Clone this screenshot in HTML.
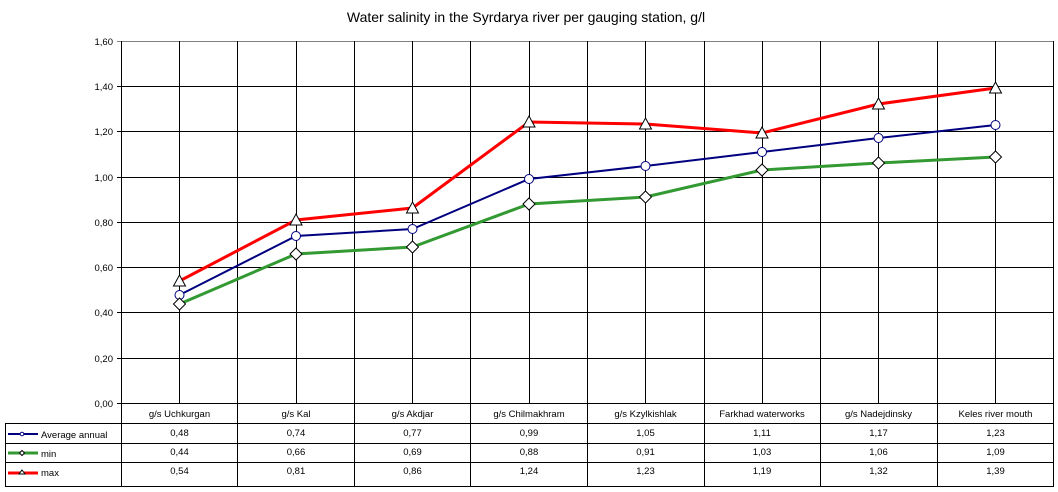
<!DOCTYPE html>
<html><head><meta charset="utf-8"><style>
html,body{margin:0;padding:0;background:#fff}
svg{display:block;font-family:"Liberation Sans",Arial,sans-serif}
</style></head><body>
<svg width="1058" height="492" viewBox="0 0 1058 492" xmlns="http://www.w3.org/2000/svg">
<rect width="1058" height="492" fill="#fff"/>
<text x="526" y="22" font-size="14" text-anchor="middle">Water salinity in the Syrdarya river per gauging station, g/l</text>
<g stroke="#000" stroke-width="1" shape-rendering="crispEdges">
<line x1="117" y1="41.5" x2="1054" y2="41.5" stroke="#808080"/>
<line x1="117" y1="86.5" x2="1054" y2="86.5"/>
<line x1="117" y1="131.5" x2="1054" y2="131.5"/>
<line x1="117" y1="177.5" x2="1054" y2="177.5"/>
<line x1="117" y1="222.5" x2="1054" y2="222.5"/>
<line x1="117" y1="267.5" x2="1054" y2="267.5"/>
<line x1="117" y1="312.5" x2="1054" y2="312.5"/>
<line x1="117" y1="358.5" x2="1054" y2="358.5"/>
<line x1="117" y1="403.5" x2="1054" y2="403.5"/>
<line x1="121.5" y1="41" x2="121.5" y2="486"/>
<line x1="179.5" y1="41" x2="179.5" y2="403"/>
<line x1="237.5" y1="41" x2="237.5" y2="486"/>
<line x1="296.5" y1="41" x2="296.5" y2="403"/>
<line x1="354.5" y1="41" x2="354.5" y2="486"/>
<line x1="412.5" y1="41" x2="412.5" y2="403"/>
<line x1="470.5" y1="41" x2="470.5" y2="486"/>
<line x1="529.5" y1="41" x2="529.5" y2="403"/>
<line x1="587.5" y1="41" x2="587.5" y2="486"/>
<line x1="645.5" y1="41" x2="645.5" y2="403"/>
<line x1="704.5" y1="41" x2="704.5" y2="486"/>
<line x1="762.5" y1="41" x2="762.5" y2="403"/>
<line x1="820.5" y1="41" x2="820.5" y2="486"/>
<line x1="878.5" y1="41" x2="878.5" y2="403"/>
<line x1="937.5" y1="41" x2="937.5" y2="486"/>
<line x1="995.5" y1="41" x2="995.5" y2="403"/>
<line x1="1053.5" y1="41" x2="1053.5" y2="486"/>
<line x1="5.5" y1="423.5" x2="1054" y2="423.5"/>
<line x1="5.5" y1="443.5" x2="1054" y2="443.5"/>
<line x1="5.5" y1="462.5" x2="1054" y2="462.5"/>
<line x1="5.5" y1="486.5" x2="1054" y2="486.5"/>
<line x1="5.5" y1="423" x2="5.5" y2="487"/>
</g>
<g font-size="9.5" text-anchor="end">
<text x="113" y="45">1,60</text><text x="113" y="90">1,40</text><text x="113" y="135">1,20</text>
<text x="113" y="181">1,00</text><text x="113" y="226">0,80</text><text x="113" y="271">0,60</text>
<text x="113" y="316">0,40</text><text x="113" y="362">0,20</text><text x="113" y="407">0,00</text>
</g>
<g font-size="9.5" text-anchor="middle">
<text x="179.5" y="417">g/s Uchkurgan</text><text x="296" y="417">g/s Kal</text><text x="412.5" y="417">g/s Akdjar</text>
<text x="529" y="417">g/s Chilmakhram</text><text x="645.5" y="417">g/s Kzylkishlak</text><text x="762" y="417">Farkhad waterworks</text>
<text x="878.5" y="417">g/s Nadejdinsky</text><text x="995.5" y="417">Keles river mouth</text>
<text x="179.5" y="436">0,48</text><text x="296" y="436">0,74</text><text x="412.5" y="436">0,77</text><text x="529" y="436">0,99</text><text x="645.5" y="436">1,05</text><text x="762" y="436">1,11</text><text x="878.5" y="436">1,17</text><text x="995.5" y="436">1,23</text>
<text x="179.5" y="455">0,44</text><text x="296" y="455">0,66</text><text x="412.5" y="455">0,69</text><text x="529" y="455">0,88</text><text x="645.5" y="455">0,91</text><text x="762" y="455">1,03</text><text x="878.5" y="455">1,06</text><text x="995.5" y="455">1,09</text>
<text x="179.5" y="474">0,54</text><text x="296" y="474">0,81</text><text x="412.5" y="474">0,86</text><text x="529" y="474">1,24</text><text x="645.5" y="474">1,23</text><text x="762" y="474">1,19</text><text x="878.5" y="474">1,32</text><text x="995.5" y="474">1,39</text>
</g>
<g font-size="9.5">
<text x="41" y="438">Average annual</text><text x="41" y="457">min</text><text x="41" y="476">max</text>
</g>
<line x1="8" y1="434" x2="38" y2="434" stroke="#000080" stroke-width="2"/>
<circle cx="22" cy="434" r="1.8" fill="#fff" stroke="#000080"/>
<line x1="8" y1="453" x2="38" y2="453" stroke="#339933" stroke-width="3"/>
<path d="M22,450.5 L24.5,453 L22,455.5 L19.5,453Z" fill="#fff" stroke="#000"/>
<line x1="8" y1="473" x2="38" y2="473" stroke="#ff0000" stroke-width="3"/>
<path d="M22,470 L25,474 L19,474Z" fill="#fff" stroke="#000"/>
<polyline fill="none" stroke="#ff0000" stroke-width="3" points="179.5,281 296,220 412.5,208 529,122 645.5,124 762,133 878.5,104 995.5,88"/>
<polyline fill="none" stroke="#000080" stroke-width="2" points="179.5,295 296,236 412.5,229 529,179 645.5,166 762,152 878.5,138 995.5,125"/>
<polyline fill="none" stroke="#339933" stroke-width="3" points="179.5,304 296,254 412.5,247 529,204 645.5,197 762,170 878.5,163 995.5,157"/>
<g fill="#fff" stroke="#000080" stroke-width="1">
<circle cx="179.5" cy="295" r="4.5"/><circle cx="296" cy="236" r="4.5"/><circle cx="412.5" cy="229" r="4.5"/><circle cx="529" cy="179" r="4.5"/><circle cx="645.5" cy="166" r="4.5"/><circle cx="762" cy="152" r="4.5"/><circle cx="878.5" cy="138" r="4.5"/><circle cx="995.5" cy="125" r="4.5"/>
</g>
<g fill="#fff" stroke="#000" stroke-width="1">
<path d="M179.5,298 l6,6 l-6,6 l-6,-6z"/><path d="M296,248 l6,6 l-6,6 l-6,-6z"/><path d="M412.5,241 l6,6 l-6,6 l-6,-6z"/><path d="M529,198 l6,6 l-6,6 l-6,-6z"/><path d="M645.5,191 l6,6 l-6,6 l-6,-6z"/><path d="M762,164 l6,6 l-6,6 l-6,-6z"/><path d="M878.5,157 l6,6 l-6,6 l-6,-6z"/><path d="M995.5,151 l6,6 l-6,6 l-6,-6z"/>
<path d="M179.5,275 l6,11 l-12,0z"/><path d="M296,214 l6,11 l-12,0z"/><path d="M412.5,202 l6,11 l-12,0z"/><path d="M529,116 l6,11 l-12,0z"/><path d="M645.5,118 l6,11 l-12,0z"/><path d="M762,127 l6,11 l-12,0z"/><path d="M878.5,98 l6,11 l-12,0z"/><path d="M995.5,82 l6,11 l-12,0z"/>
</g>
</svg>
</body></html>
